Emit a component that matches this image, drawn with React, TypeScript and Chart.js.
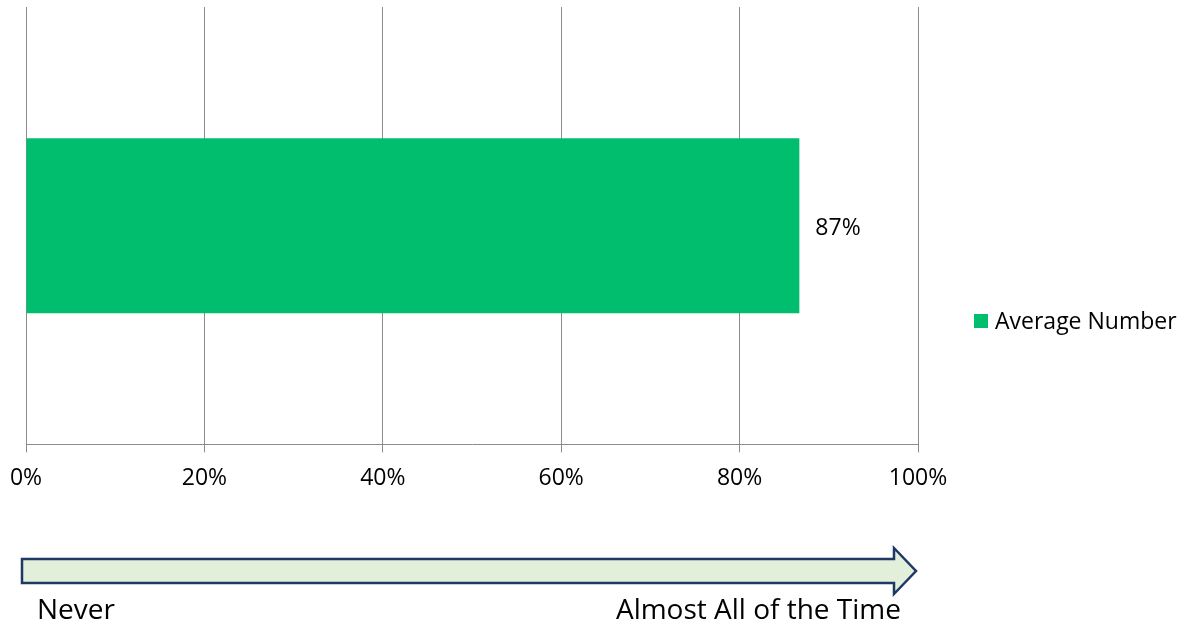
import React, { useEffect, useRef } from "react";
import { Chart, registerables } from "chart.js";

Chart.register(...registerables);

const categories: string[] = [""];
const seriesName = "Average Number";
const seriesValues: number[] = [0.867];
const axisMin = 0;
const axisMax = 1;
const axisStep = 0.2;
const scaleStartLabel = "Never";
const scaleEndLabel = "Almost All of the Time";

const FONT = "'Open Sans', 'Noto Sans', sans-serif";
const BAR_COLOR = "#00BE6E";
const GRID_COLOR = "#8C8C8C";
const TEXT_COLOR = "#000000";

const pct = (v: number) => `${Math.round(v * 100)}%`;

const valueLabelPlugin = {
  id: "valueLabels",
  afterDatasetsDraw(chart: any) {
    const ctx = chart.ctx;
    const meta = chart.getDatasetMeta(0);
    ctx.save();
    ctx.font = `23px ${FONT}`;
    ctx.fillStyle = TEXT_COLOR;
    ctx.textAlign = "left";
    ctx.textBaseline = "middle";
    meta.data.forEach((el: any, i: number) => {
      const v = chart.data.datasets[0].data[i];
      ctx.fillText(pct(v), el.x + 16, el.y + 3);
    });
    ctx.restore();
  },
};

const sideLegendPlugin = {
  id: "sideLegend",
  afterDraw(chart: any) {
    const ctx = chart.ctx;
    const ds = chart.data.datasets[0];
    const x = chart.chartArea.right + 56;
    const y = 321;
    ctx.save();
    ctx.fillStyle = ds.backgroundColor;
    ctx.fillRect(x, y - 7, 14, 14);
    ctx.font = `23px ${FONT}`;
    ctx.fillStyle = TEXT_COLOR;
    ctx.textAlign = "left";
    ctx.textBaseline = "middle";
    ctx.fillText(ds.label, x + 21, y + 1);
    ctx.restore();
  },
};

export default function App() {
  const canvasRef = useRef<HTMLCanvasElement | null>(null);

  useEffect(() => {
    document.body.style.margin = "0";
    const canvas = canvasRef.current;
    if (!canvas) return;
    const chart = new Chart(canvas, {
      type: "bar",
      data: {
        labels: categories,
        datasets: [
          {
            label: seriesName,
            data: seriesValues,
            backgroundColor: BAR_COLOR,
            borderWidth: 0,
            barPercentage: 0.4,
            categoryPercentage: 1,
          },
        ],
      },
      options: {
        indexAxis: "y",
        responsive: false,
        animation: false,
        devicePixelRatio: 1,
        layout: { padding: { top: 7, left: 26, right: 268, bottom: 122 } },
        plugins: {
          legend: { display: false },
          tooltip: { enabled: false },
        },
        scales: {
          x: {
            min: axisMin,
            max: axisMax,
            afterFit: (s: any) => {
              s.paddingLeft = 0;
              s.paddingRight = 0;
            },
            ticks: {
              stepSize: axisStep,
              callback: (v: any) => pct(Number(v)),
              color: TEXT_COLOR,
              font: { family: FONT, size: 23 },
              padding: 12,
              maxRotation: 0,
            },
            grid: { color: GRID_COLOR, lineWidth: 1, tickLength: 8, drawTicks: true },
            border: { display: true, color: GRID_COLOR, width: 1 },
          },
          y: {
            display: false,
            grid: { display: false },
          },
        },
      },
      plugins: [valueLabelPlugin, sideLegendPlugin],
    });
    return () => chart.destroy();
  }, []);

  return (
    <div style={{ position: "relative", width: 1186, height: 626, overflow: "hidden", background: "#fff" }}>
      <canvas ref={canvasRef} width={1186} height={626} style={{ position: "absolute", left: 0, top: 0, display: "block" }} />
      <svg width={1186} height={626} style={{ position: "absolute", left: 0, top: 0, pointerEvents: "none" }}>
        <polygon
          points="22,559 894,559 894,548 916,571 894,594 894,583 22,583"
          fill="#E2EFDA"
          stroke="#1F3864"
          strokeWidth={2.5}
          strokeLinejoin="miter"
        />
      </svg>
      <div
        style={{
          position: "absolute",
          left: 37,
          top: 590,
          fontFamily: FONT,
          fontSize: 28,
          lineHeight: "36px",
          color: TEXT_COLOR,
          whiteSpace: "nowrap",
        }}
      >
        {scaleStartLabel}
      </div>
      <div
        style={{
          position: "absolute",
          right: 1186 - 901,
          top: 590,
          fontFamily: FONT,
          fontSize: 28,
          lineHeight: "36px",
          color: TEXT_COLOR,
          whiteSpace: "nowrap",
        }}
      >
        {scaleEndLabel}
      </div>
    </div>
  );
}
